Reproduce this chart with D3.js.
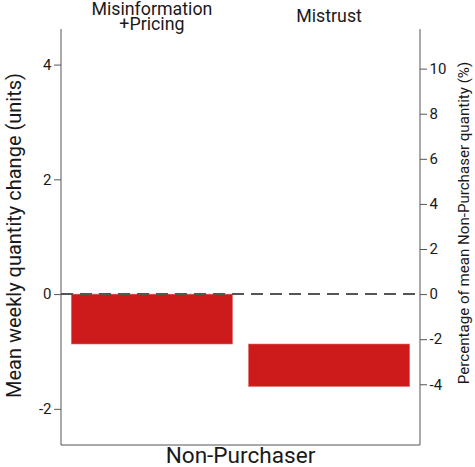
<!DOCTYPE html>
<html><head><meta charset="utf-8">
<script src="https://cdn.jsdelivr.net/npm/d3@7"></script>
<style>body{margin:0;background:#fff}svg{display:block}text{font-family:Roboto,"Noto Sans",sans-serif;fill:#1a1a1a}</style>
</head><body>
<script>
const categories = ["Misinformation\n+Pricing", "Mistrust"];
const barStart = [0, -0.87];
const barEnd = [-0.87, -1.61];
const leftTicks = [-2, 0, 2, 4];
const rightTicks = [-4, -2, 0, 2, 4, 6, 8, 10];
const groupLabel = "Non-Purchaser";
const leftTitle = "Mean weekly quantity change (units)";
const rightTitle = "Percentage of mean Non-Purchaser quantity (%)";
const pctPerUnit = 2.545;

const W = 475, H = 467;
const m = {l: 61, r: 420, t: 29, b: 445};
const svg = d3.select("body").append("svg").attr("width", W).attr("height", H);

const y = d3.scaleLinear().domain([-2.63, 4.62]).range([m.b, m.t]);
const yR = d3.scaleLinear().domain([-2.63 * pctPerUnit, 4.62 * pctPerUnit]).range([m.b, m.t]);
const x = d3.scaleBand().domain(categories).range([m.l, m.r]).paddingInner(0.09).paddingOuter(0.058);

// bars
svg.selectAll("rect.bar").data(categories).enter().append("rect")
  .attr("x", d => x(d))
  .attr("width", x.bandwidth())
  .attr("y", (d, i) => y(Math.max(barStart[i], barEnd[i])))
  .attr("height", (d, i) => Math.abs(y(barStart[i]) - y(barEnd[i])))
  .attr("fill", "#cd1a1a").attr("stroke", "#e27474").attr("stroke-width", 0.6);

// zero line
svg.append("line").attr("x1", m.l).attr("x2", m.r).attr("y1", y(0)).attr("y2", y(0))
  .attr("stroke", "#555").attr("stroke-width", 2).attr("stroke-dasharray", "12,7");

const fmt = d => String(d);
const ga = svg.append("g").attr("transform", `translate(${m.l},0)`)
  .call(d3.axisLeft(y).tickValues(leftTicks).tickSize(7).tickPadding(2.5).tickFormat(fmt));
const gr = svg.append("g").attr("transform", `translate(${m.r},0)`)
  .call(d3.axisRight(yR).tickValues(rightTicks).tickSize(7).tickPadding(2.5).tickFormat(fmt));
[ga, gr].forEach(g => {
  g.select(".domain").attr("stroke", "#555").attr("d", `M0,${m.t}V${m.b}`);
  g.selectAll(".tick line").attr("stroke", "#555");
  g.selectAll(".tick text").attr("font-size", 15).attr("fill", "#1a1a1a").attr("font-family", "Roboto");
});
svg.append("line").attr("x1", m.l).attr("x2", m.r).attr("y1", m.b).attr("y2", m.b).attr("stroke", "#555");

// category labels
categories.forEach(c => {
  const lines = c.split("\n");
  const cx = x(c) + x.bandwidth() / 2;
  const t = svg.append("text").attr("text-anchor", "middle").attr("font-size", 17.8);
  if (lines.length === 2) {
    t.append("tspan").attr("x", cx).attr("y", 15.2).text(lines[0]);
    t.append("tspan").attr("x", cx).attr("y", 29.5).text(lines[1]);
  } else {
    t.append("tspan").attr("x", cx).attr("y", 22).text(lines[0]);
  }
});

svg.append("text").attr("x", (m.l + m.r) / 2).attr("y", 463).attr("text-anchor", "middle")
  .attr("font-size", 22.6).text(groupLabel);

svg.append("text").attr("transform", `translate(21,235.5) rotate(-90)`).attr("text-anchor", "middle")
  .attr("font-size", 20).text(leftTitle);
svg.append("text").attr("transform", `translate(469,223) rotate(-90)`).attr("text-anchor", "middle")
  .attr("font-size", 15.1).text(rightTitle);
</script>
</body></html>
